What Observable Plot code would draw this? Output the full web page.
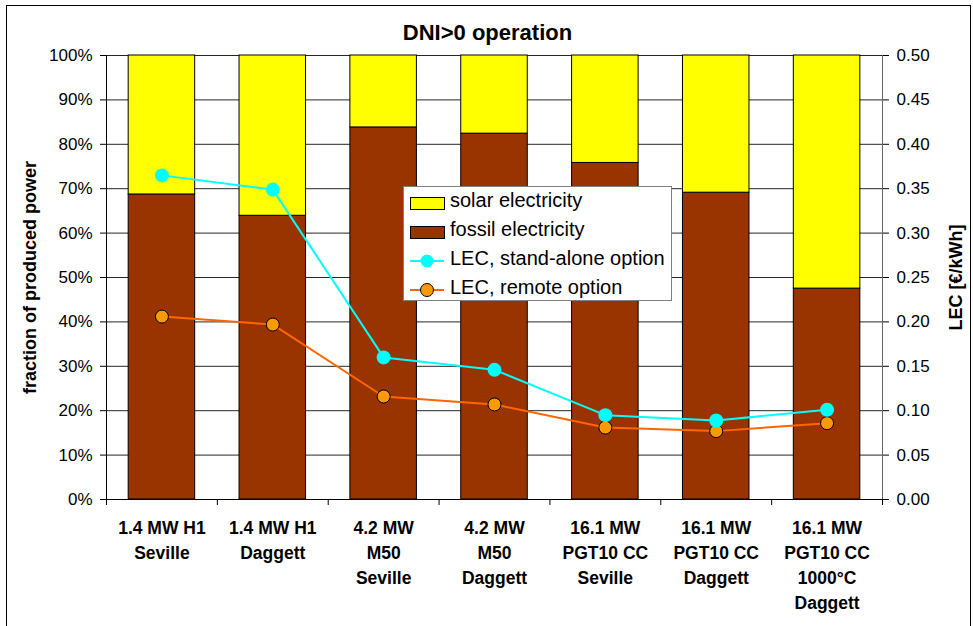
<!DOCTYPE html>
<html>
<head>
<meta charset="utf-8">
<script src="https://cdn.jsdelivr.net/npm/d3@7"></script>
<script src="https://cdn.jsdelivr.net/npm/@observablehq/plot@0.6"></script>
<style>
  html, body { margin: 0; padding: 0; background: #fff; overflow: hidden; }
  #wrap { position: relative; width: 973px; height: 626px; font-family: "Liberation Sans", Arial, sans-serif; }
  #frame { position: absolute; left: 6px; top: 5px; width: 963px; height: 700px; border: 1px solid #000; pointer-events: none; }
  #legend { position: absolute; left: 403px; top: 186px; width: 267px; height: 113px; border: 1px solid #808080; background: #fff; }
  .row { position: absolute; left: 0; height: 29px; width: 100%; }
  .row span { position: absolute; left: 46px; top: 2px; font-size: 20px; color: #000; white-space: nowrap; }
  .row svg { position: absolute; left: 5px; top: 0; }
</style>
</head>
<body>
<div id="wrap"><div id="frame"></div></div>
<script>
const categories = [
  "1.4 MW H1\nSeville",
  "1.4 MW H1\nDaggett",
  "4.2 MW\nM50\nSeville",
  "4.2 MW\nM50\nDaggett",
  "16.1 MW\nPGT10 CC\nSeville",
  "16.1 MW\nPGT10 CC\nDaggett",
  "16.1 MW\nPGT10 CC\n1000°C\nDaggett"
];
const fossil = [68.7, 63.9, 83.8, 82.4, 75.8, 69.1, 47.5];      // % of produced power
const solar  = [31.3, 36.1, 16.2, 17.6, 24.2, 30.9, 52.5];      // % of produced power
const lecStandAlone = [0.365, 0.349, 0.160, 0.146, 0.095, 0.089, 0.101]; // €/kWh
const lecRemote     = [0.206, 0.197, 0.116, 0.107, 0.081, 0.077, 0.086]; // €/kWh
const leftTicks = [0, 10, 20, 30, 40, 50, 60, 70, 80, 90, 100];
const rightTicks = [0.00, 0.05, 0.10, 0.15, 0.20, 0.25, 0.30, 0.35, 0.40, 0.45, 0.50];

const BROWN = "#993300", YELLOW = "#FFFF00", CYAN = "#00FFFF", ORANGE_LINE = "#FF6600", ORANGE_DOT = "#FF9900";
const LEC_MAX = 0.5; // right axis top maps to 100 %
const toPct = v => v / LEC_MAX * 100;

const rows = categories.map((c, i) => ({
  i, cat: c, fossil: fossil[i], solar: solar[i],
  lecS: lecStandAlone[i], lecR: lecRemote[i]
}));
const pad = 0.2;

const chart = Plot.plot({
  width: 973,
  height: 626,
  marginTop: 55,
  marginBottom: 127,
  marginLeft: 106,
  marginRight: 91,
  style: { fontFamily: "'Liberation Sans', Arial, sans-serif", background: "transparent", overflow: "visible" },
  x: { type: "linear", domain: [0, categories.length], axis: null },
  y: { domain: [0, 100], axis: null },
  marks: [
    // gridlines
    Plot.ruleY(leftTicks.filter(d => d > 0), { stroke: "#000", strokeOpacity: 0.85, strokeWidth: 1 }),
    // stacked bars
    Plot.rectY(rows, { x1: d => d.i + pad, x2: d => d.i + 1 - pad, y1: 0, y2: "fossil", fill: BROWN, stroke: "#000", strokeWidth: 1 }),
    Plot.rectY(rows, { x1: d => d.i + pad, x2: d => d.i + 1 - pad, y1: "fossil", y2: d => d.fossil + d.solar, fill: YELLOW, stroke: "#000", strokeWidth: 1 }),
    // axes
    Plot.axisY({ anchor: "left", ticks: leftTicks, tickFormat: d => d + "%", tickSize: 6, tickPadding: 8, fontSize: 17, label: null, stroke: "#000" }),
    Plot.axisY({ anchor: "right", ticks: rightTicks.map(toPct), tickFormat: d => (d / 100 * LEC_MAX).toFixed(2), tickSize: 6, tickPadding: 8, fontSize: 17, label: null, stroke: "#000" }),
    Plot.axisX({ ticks: d3.range(0, categories.length + 1), tickFormat: () => "", tickSize: 6, label: null, stroke: "#000" }),
    Plot.ruleX([0], { stroke: "#000" }),
    Plot.ruleX([categories.length], { stroke: "#666" }),
    Plot.ruleY([0], { stroke: "#000" }),
    // category labels
    Plot.text(rows, { x: d => d.i + 0.5, y: 0, text: "cat", lineAnchor: "top", dy: 17, fontSize: 17.5, fontWeight: "bold", lineHeight: 1.43, fill: "#000" }),
    // LEC lines
    Plot.line(rows, { x: d => d.i + 0.5, y: d => toPct(d.lecS), stroke: CYAN, strokeWidth: 2 }),
    Plot.line(rows, { x: d => d.i + 0.5, y: d => toPct(d.lecR), stroke: ORANGE_LINE, strokeWidth: 2 }),
    Plot.dot(rows, { x: d => d.i + 0.5, y: d => toPct(d.lecR), r: 6.5, fill: ORANGE_DOT, stroke: "#000", strokeWidth: 1 }),
    Plot.dot(rows, { x: d => d.i + 0.5, y: d => toPct(d.lecS), r: 7, fill: CYAN, stroke: "none" }),
    // title and axis titles
    Plot.text(["DNI>0 operation"], { frameAnchor: "top", lineAnchor: "middle", dy: -23, dx: -7, fontSize: 22, fontWeight: "bold", fill: "#000" }),
    Plot.text(["fraction of produced power"], { frameAnchor: "left", textAnchor: "middle", lineAnchor: "middle", dx: -76, rotate: -90, fontSize: 18, fontWeight: "bold", fill: "#000" }),
    Plot.text(["LEC [€/kWh]"], { frameAnchor: "right", textAnchor: "middle", lineAnchor: "middle", dx: 74, rotate: -90, fontSize: 18, fontWeight: "bold", fill: "#000" })
  ]
});
chart.style.position = "absolute";
chart.style.left = "0";
chart.style.top = "0";
const wrap = document.getElementById("wrap");
wrap.insertBefore(chart, wrap.firstChild);

// legend
const legendItems = [
  { label: "solar electricity", type: "rect", fill: YELLOW },
  { label: "fossil electricity", type: "rect", fill: BROWN },
  { label: "LEC, stand-alone option", type: "line", stroke: CYAN, dot: CYAN, dotStroke: "none" },
  { label: "LEC, remote option", type: "line", stroke: ORANGE_LINE, dot: ORANGE_DOT, dotStroke: "#000" }
];
const legend = document.createElement("div");
legend.id = "legend";
legendItems.forEach((it, k) => {
  const row = document.createElement("div");
  row.className = "row";
  row.style.top = (k * 29) + "px";
  let sw;
  if (it.type === "rect") {
    sw = `<svg width="36" height="29"><rect x="1.5" y="10.5" width="34" height="12" fill="${it.fill}" stroke="#000"/></svg>`;
  } else {
    sw = `<svg width="36" height="29"><line x1="1" x2="35" y1="16" y2="16" stroke="${it.stroke}" stroke-width="2"/><circle cx="18" cy="16" r="6.5" fill="${it.dot}" stroke="${it.dotStroke}"/></svg>`;
  }
  row.innerHTML = sw + `<span>${it.label}</span>`;
  legend.appendChild(row);
});
wrap.appendChild(legend);
</script>
</body>
</html>
